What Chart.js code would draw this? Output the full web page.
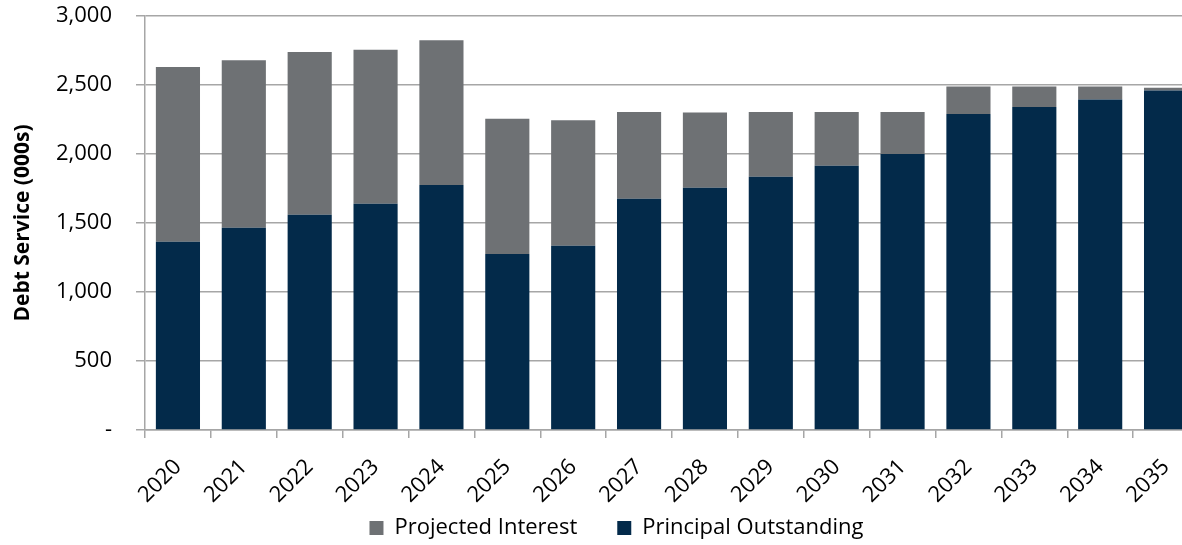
<!DOCTYPE html>
<html>
<head>
<meta charset="utf-8">
<script src="https://cdn.jsdelivr.net/npm/chart.js@4"></script>
<style>
  body { margin: 0; background: #fff; }
  #wrap { width: 1182px; height: 545px; overflow: hidden; }
</style>
</head>
<body>
<div id="wrap"><canvas id="debtChart" width="1234" height="582"></canvas></div>
<script>
const years = ["2020", "2021", "2022", "2023", "2024", "2025", "2026", "2027",
    "2028", "2029", "2030", "2031", "2032", "2033", "2034", "2035"];

const principal = [1365, 1465, 1560, 1640, 1775, 1275, 1335, 1675,
    1755, 1835, 1915, 2000, 2290, 2340, 2395, 2460];

const interest = [1265, 1215, 1180, 1115, 1050, 980, 910, 630,
    545, 470, 390, 305, 200, 150, 95, 20];

const yTicks = [0, 500, 1000, 1500, 2000, 2500, 3000];

const font = "'Open Sans', sans-serif";
const gridColor = '#a6a6a6';

// move the legend up under the year labels and a bit right, like the original
const legendShift = {
    id: 'legendShift',
    afterLayout(chart) {
        const lg = chart.legend;
        lg.left += 17;
        lg.right += 17;
        lg.top -= 33;
        lg.bottom -= 33;
    }
};

const ctx = document.getElementById('debtChart').getContext('2d');

new Chart(ctx, {
    type: 'bar',
    data: {
        labels: years,
        datasets: [
            {
                label: 'Principal Outstanding',
                data: principal,
                backgroundColor: '#032a4a',
                barPercentage: 0.67,
                categoryPercentage: 1
            },
            {
                label: 'Projected Interest',
                data: interest,
                backgroundColor: '#6e7174',
                barPercentage: 0.67,
                categoryPercentage: 1
            }
        ]
    },
    options: {
        responsive: false,
        animation: false,
        layout: {
            padding: { top: 0, right: 35, left: 0, bottom: 0 }
        },
        plugins: {
            tooltip: { enabled: false },
            legend: {
                position: 'bottom',
                reverse: true,
                labels: {
                    color: '#000',
                    font: { family: font, size: 22 },
                    boxWidth: 14,
                    boxHeight: 14,
                    padding: 40
                }
            }
        },
        scales: {
            x: {
                stacked: true,
                grid: {
                    display: true,
                    offset: true,
                    drawOnChartArea: false,
                    color: gridColor,
                    lineWidth: 1.5,
                    tickLength: 8
                },
                border: { color: gridColor, width: 1.5 },
                ticks: {
                    color: '#000',
                    font: { family: font, size: 22 },
                    minRotation: 45,
                    maxRotation: 45,
                    padding: 16
                },
                afterFit: scale => { scale.height = 80; }
            },
            y: {
                stacked: true,
                min: 0,
                max: 3000,
                afterBuildTicks: scale => {
                    scale.ticks = yTicks.map(v => ({ value: v }));
                },
                grid: {
                    color: gridColor,
                    lineWidth: 1.5,
                    tickLength: 9
                },
                border: { color: gridColor, width: 1.5 },
                ticks: {
                    color: '#000',
                    font: { family: font, size: 22 },
                    padding: 24,
                    callback: v => v === 0 ? '-' : v.toLocaleString('en-US')
                },
                title: {
                    display: true,
                    text: 'Debt Service (000s)',
                    color: '#000',
                    font: { family: font, size: 21, weight: 'bold' },
                    padding: { top: 10, bottom: 4 }
                },
                afterFit: scale => {
                    scale.width = 145;
                    scale.paddingTop = 16;
                }
            }
        }
    },
    plugins: [legendShift]
});
</script>
</body>
</html>
